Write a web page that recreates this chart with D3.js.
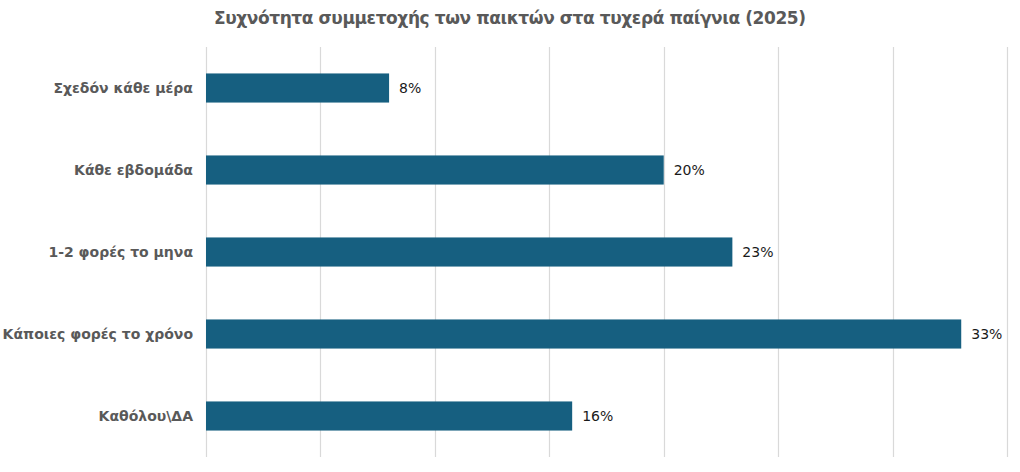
<!DOCTYPE html>
<html>
<head>
<meta charset="utf-8">
<script src="https://cdn.jsdelivr.net/npm/d3@7"></script>
<style>
  body { margin: 0; background: #fff; }
  svg { display: block; font-family: 'DejaVu Sans', Verdana, sans-serif; }
</style>
</head>
<body>
<div class="chart"></div>
<script>
const title      = 'Συχνότητα συμμετοχής των παικτών στα τυχερά παίγνια (2025)';
const categories = ['Σχεδόν κάθε μέρα', 'Κάθε εβδομάδα', '1-2 φορές το μηνα', 'Κάποιες φορές το χρόνο', 'Καθόλου\\ΔΑ'];
const values     = [8, 20, 23, 33, 16];
const ticks      = [0, 5, 10, 15, 20, 25, 30, 35];

function draw() {
  const width  = 1020;
  const height = 472;
  const margin = { top: 47, right: 13, bottom: 15, left: 206 };

  const svg = d3.select('.chart')
    .append('svg').attr('width', width).attr('height', height);

  const x = d3.scaleLinear()
    .domain([0, 35])
    .range([margin.left, width - margin.right]);

  const y = d3.scaleBand()
    .domain(categories)
    .range([margin.top, height - margin.bottom])
    .paddingInner(0.645)
    .paddingOuter(0.3225);

  // vertical gridlines
  svg.append('g')
    .selectAll('line')
    .data(ticks).enter().append('line')
    .attr('x1', (d) => Math.round(x(d)) + 0.5)
    .attr('x2', (d) => Math.round(x(d)) + 0.5)
    .attr('y1', margin.top)
    .attr('y2', height - margin.bottom)
    .style('stroke', '#d9d9d9')
    .style('stroke-width', 1.2);

  const rows = svg.append('g')
    .selectAll('g')
    .data(categories.map((c, i) => ({ cat: c, val: values[i] })))
    .enter().append('g');

  rows.append('rect')
    .attr('x',      x(0))
    .attr('y',      (d) => y(d.cat))
    .attr('width',  (d) => x(d.val) - x(0))
    .attr('height', y.bandwidth())
    .style('fill',  '#165f80');

  rows.append('text')
    .attr('x', (d) => x(d.val) + 10)
    .attr('y', (d) => y(d.cat) + y.bandwidth() / 2)
    .attr('dy', '0.36em')
    .style('font-size', '14px')
    .style('fill', '#1a1a1a')
    .text((d) => d.val + '%');

  rows.append('text')
    .attr('x', margin.left - 13)
    .attr('y', (d) => y(d.cat) + y.bandwidth() / 2)
    .attr('dy', '0.36em')
    .attr('text-anchor', 'end')
    .style('font-size', '14px')
    .style('font-weight', 'bold')
    .style('fill', '#595959')
    .text((d) => d.cat);

  svg.append('text')
    .attr('x', 510)
    .attr('y', 24)
    .attr('text-anchor', 'middle')
    .attr('textLength', 592)
    .attr('lengthAdjust', 'spacing')
    .style('font-size', '17px')
    .style('font-weight', 'bold')
    .style('fill', '#595959')
    .text(title);
}

draw();
</script>
</body>
</html>
